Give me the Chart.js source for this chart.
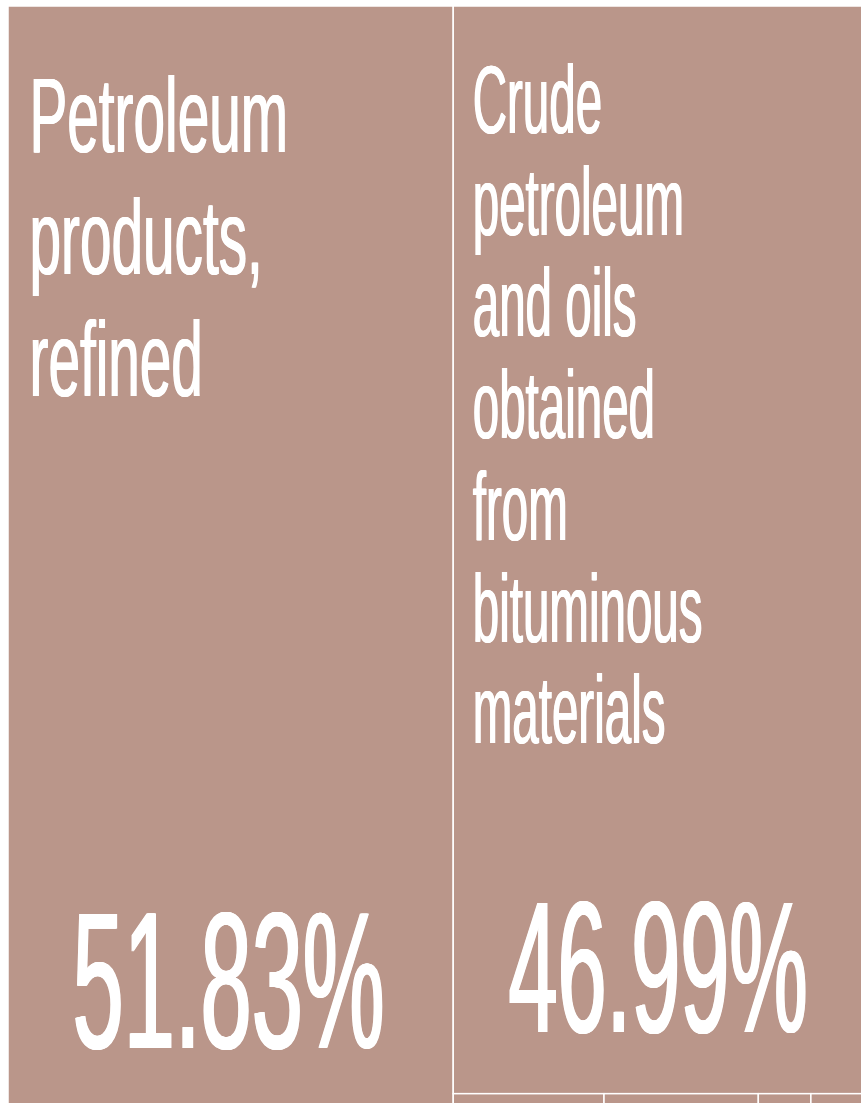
<!DOCTYPE html>
<html>
<head>
<meta charset="utf-8">
<title>Petroleum exports treemap</title>
<script src="https://cdn.jsdelivr.net/npm/chart.js@4.4.0/dist/chart.umd.min.js"></script>
<style>
    html, body { margin: 0; padding: 0; background: #fff; overflow: hidden; }
    #treemap { position: absolute; left: 8px; top: 6px; }
</style>
</head>
<body>
<canvas id="treemap" width="859" height="1115"></canvas>
<script>
// --- Data ---
const categories = [
    'Petroleum products, refined',
    'Crude petroleum and oils obtained from bituminous materials',
    'Petroleum gases and other gaseous hydrocarbons',
    'Petroleum coke, petroleum bitumen and other residues',
    'Bitumen and asphalt, natural',
    'Petroleum jelly, paraffin wax and mineral waxes'
];
const shares = [51.83, 46.99, 0.43, 0.44, 0.15, 0.16];

// --- Styles ---
const cellColor = '#ba968a';
const borderColor = '#ffffff';
const fontFamily = '"Liberation Sans", Arial, sans-serif';
// big cells get a label block at the top and the share near the bottom
const labelStyles = [
    { size: 106, lineHeight: 122, stretch: 0.535, padX: 21.5, firstBaseline: 146, valueSize: 195, valueBottom: 73 },
    { size: 96, lineHeight: 101.7, stretch: 0.495, padX: 19.5, firstBaseline: 127, valueSize: 187, valueBottom: 62 }
];
const valueStretch = 0.472;

// --- Layout (data units, 0..100 on both axes) ---
// large items take alternating strips, the small tail shares the last strip
function layoutCells(values) {
    const total = values.reduce((a, b) => a + b, 0);
    const cells = [];
    let r = { x: 0, y: 0, w: 100, h: 100 };
    let vertical = true;

    for (let i = 0; i < values.length; i++) {
        const rest = values.slice(i);
        const restSum = rest.reduce((a, b) => a + b, 0);

        if (values[i] / total < 0.05) {
            let pos = vertical ? r.x : r.y;
            rest.forEach(v => {
                const frac = v / restSum;
                if (vertical) {
                    cells.push({ x: pos, y: r.y, w: r.w * frac, h: r.h });
                    pos += r.w * frac;
                } else {
                    cells.push({ x: r.x, y: pos, w: r.w, h: r.h * frac });
                    pos += r.h * frac;
                }
            });
            break;
        }

        const frac = values[i] / restSum;
        if (vertical) {
            const w = r.w * frac;
            cells.push({ x: r.x, y: r.y, w: w, h: r.h });
            r = { x: r.x + w, y: r.y, w: r.w - w, h: r.h };
        } else {
            const h = r.h * frac;
            cells.push({ x: r.x, y: r.y, w: r.w, h: h });
            r = { x: r.x, y: r.y + h, w: r.w, h: r.h - h };
        }
        vertical = !vertical;
    }
    return cells;
}

const cells = layoutCells(shares);

function cellPixels(chart, c) {
    const xs = chart.scales.x;
    const ys = chart.scales.y;
    const left = xs.getPixelForValue(c.x);
    const right = xs.getPixelForValue(c.x + c.w);
    const top = ys.getPixelForValue(c.y);
    const bottom = ys.getPixelForValue(c.y + c.h);
    return { left, top, width: right - left, height: bottom - top };
}

function wrapWords(ctx, text, maxWidth, stretch) {
    const words = text.split(' ');
    const lines = [];
    let line = '';
    words.forEach(word => {
        const test = line ? line + ' ' + word : word;
        if (line && ctx.measureText(test).width * stretch > maxWidth) {
            lines.push(line);
            line = word;
        } else {
            line = test;
        }
    });
    if (line) lines.push(line);
    return lines;
}

// condensed text, stems widened a little by repeating it sideways
function drawCondensed(ctx, text, x, y, stretch, spread) {
    for (let dx = -spread; dx <= spread + 0.01; dx += 0.5) {
        ctx.save();
        ctx.translate(x + dx, y);
        ctx.scale(stretch, 1);
        ctx.fillText(text, 0, 0);
        ctx.restore();
    }
}

const treemapPlugin = {
    id: 'treemapCells',
    beforeDatasetsDraw(chart) {
        const ctx = chart.ctx;
        ctx.save();
        cells.forEach(c => {
            const p = cellPixels(chart, c);
            ctx.fillStyle = cellColor;
            ctx.fillRect(p.left, p.top, p.width, p.height);
            ctx.strokeStyle = borderColor;
            ctx.lineWidth = 1.5;
            ctx.strokeRect(p.left, p.top, p.width, p.height);
        });
        ctx.restore();
    },
    afterDatasetsDraw(chart) {
        const ctx = chart.ctx;
        cells.forEach((c, i) => {
            const style = labelStyles[i];
            if (!style) return;
            const p = cellPixels(chart, c);

            ctx.save();
            ctx.fillStyle = '#ffffff';
            ctx.textBaseline = 'alphabetic';

            // category name, wrapped
            ctx.font = `${style.size}px ${fontFamily}`;
            ctx.textAlign = 'left';
            const lines = wrapWords(ctx, categories[i], p.width * 0.6, style.stretch);
            lines.forEach((line, k) => {
                drawCondensed(ctx, line, p.left + style.padX,
                    p.top + style.firstBaseline + k * style.lineHeight, style.stretch, 0.5);
            });

            // share
            ctx.font = `${style.valueSize}px ${fontFamily}`;
            ctx.textAlign = 'center';
            drawCondensed(ctx, shares[i].toFixed(2) + '%', p.left + p.width / 2 - 2,
                p.top + p.height - style.valueBottom, valueStretch, 1);
            ctx.restore();
        });
    }
};

// --- Chart ---
new Chart(document.getElementById('treemap').getContext('2d'), {
    type: 'scatter',
    data: { datasets: [{ data: [], pointRadius: 0 }] },
    options: {
        responsive: false,
        animation: false,
        layout: { padding: 0 },
        plugins: { legend: { display: false }, tooltip: { enabled: false } },
        scales: {
            x: { type: 'linear', min: 0, max: 100, display: false },
            y: { type: 'linear', min: 0, max: 100, reverse: true, display: false }
        }
    },
    plugins: [treemapPlugin]
});
</script>
</body>
</html>
